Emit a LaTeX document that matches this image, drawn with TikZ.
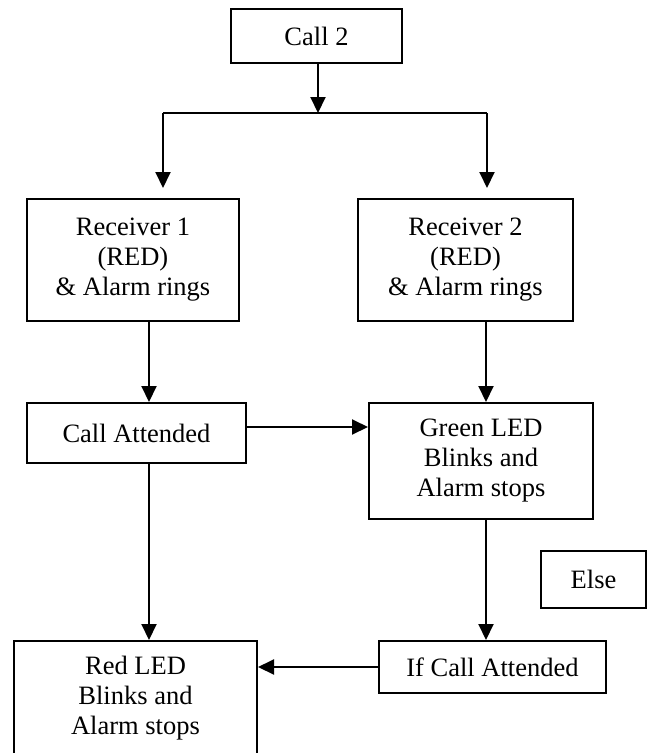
\documentclass[tikz,border=0pt]{standalone}
\usepackage{fontspec}
\setmainfont{Liberation Serif}
\usetikzlibrary{arrows.meta}

\tikzset{
  box/.style={draw, line width=2pt, align=center, inner sep=0pt,
    font=\fontsize{26.5}{30}\selectfont},
  arr/.style={line width=2pt, -{Triangle[width=15pt,length=16pt]}}
}

\begin{document}
\begin{tikzpicture}[x=1pt,y=-1pt]
    \useasboundingbox (0,0) rectangle (648,753);
    % boxes
    \node[box, minimum width=171pt, minimum height=54pt] (call2) at (316.5,36) {Call 2};
    \node[box, minimum width=212pt, minimum height=122pt] (rx1) at (133,260) {Receiver 1\\(RED)\\\& Alarm rings};
    \node[box, minimum width=215pt, minimum height=122pt] (rx2) at (465.5,260) {Receiver 2\\(RED)\\\& Alarm rings};
    \node[box, minimum width=219pt, minimum height=60pt] (callatt) at (136.5,433) {Call Attended};
    \node[box, minimum width=224pt, minimum height=116pt] (green) at (481,461) {Green LED\\Blinks and\\Alarm stops};
    \node[box, minimum width=105pt, minimum height=57pt] (elsebox) at (593.5,579.5) {Else};
    \node[box, minimum width=227pt, minimum height=52pt] (ifcall) at (492.5,667) {If Call Attended};
    \node[box, minimum width=243pt, minimum height=114pt] (red) at (135.5,698) {Red LED\\Blinks and\\Alarm stops};
    % split below Call 2
    \coordinate (split) at (318,113);
    \coordinate (lbranch) at (163,113);
    \coordinate (rbranch) at (487,113);
    \draw[arr] ([xshift=1.5pt]call2.south) -- (split);
    \draw[line width=2pt] (lbranch) -- (rbranch);
    \draw[arr, shorten >=10pt] (lbranch) -- (lbranch |- rx1.north);
    \draw[arr, shorten >=10pt] (rbranch) -- (rbranch |- rx2.north);
    % left column
    \draw[arr] ([xshift=16pt]rx1.south) -- ([xshift=12.5pt]callatt.north);
    \draw[arr] ([xshift=12.5pt]callatt.south) -- ([xshift=13.5pt]red.north);
    % right column
    \draw[arr] ([xshift=20.5pt]rx2.south) -- ([xshift=5pt]green.north);
    \draw[arr] ([xshift=5pt]green.south) -- ([xshift=-6.5pt]ifcall.north);
    % across
    \coordinate (ca) at ([yshift=6pt]callatt.east);
    \draw[arr] (ca) -- (ca -| green.west);
    \draw[arr] (ifcall.west) -- (ifcall.west -| red.east);
\end{tikzpicture}
\end{document}
